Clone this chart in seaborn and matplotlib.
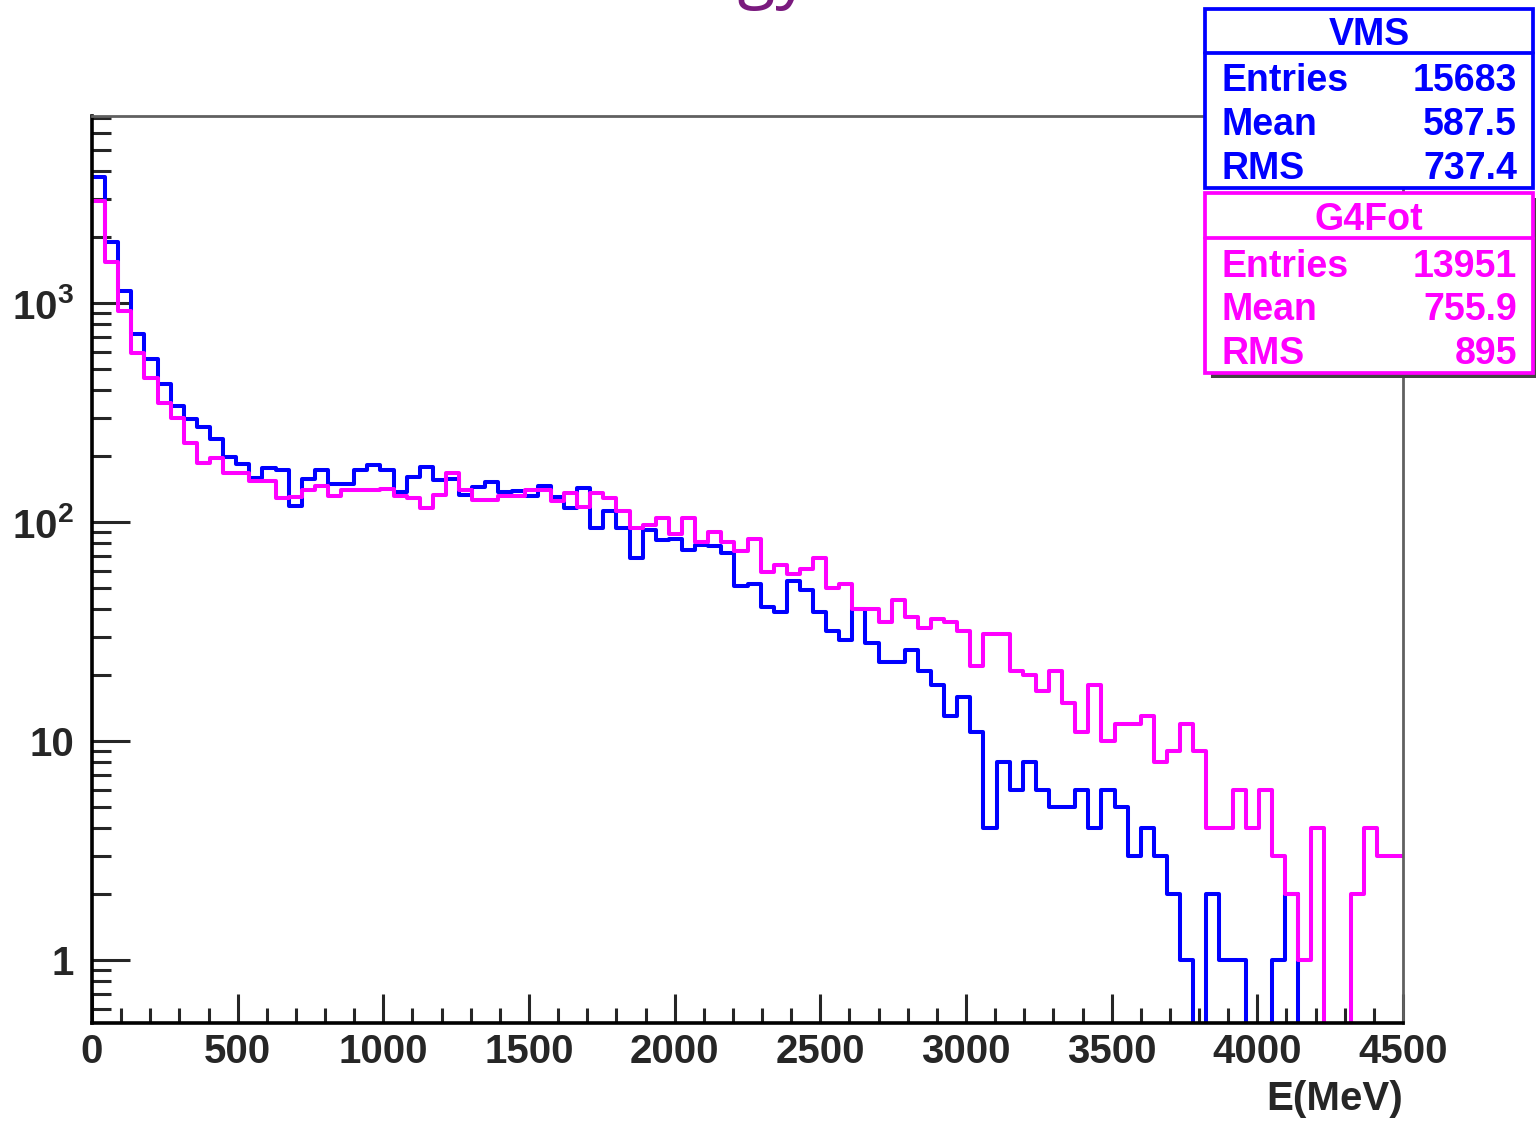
import numpy as np
import pandas as pd
import matplotlib
matplotlib.use("Agg")
import matplotlib.pyplot as plt
import seaborn as sns
from matplotlib.patches import Rectangle
from matplotlib.lines import Line2D
from matplotlib.ticker import FixedLocator, FixedFormatter, MultipleLocator, LogLocator, NullFormatter

# ---------------- data ----------------
E_MIN, E_MAX, N_BINS = 0, 4500, 100

vms_counts = [3760, 1912, 1133, 722, 555, 430, 341, 295, 273, 239,
              198, 184, 159, 176, 173, 119, 157, 173, 149, 150,
              173, 182, 173, 138, 161, 178, 156, 158, 133, 145,
              153, 138, 139, 132, 147, 131, 116, 144, 94, 113,
              94, 69, 92, 83, 84, 75, 79, 78, 72, 51,
              52, 41, 39, 54, 49, 39, 32, 29, 40, 28,
              23, 23, 26, 21, 18, 13, 16, 11, 4, 8,
              6, 8, 6, 5, 5, 6, 4, 6, 5, 3,
              4, 3, 2, 1, 0, 2, 1, 1, 0, 0,
              1, 2, 0, 0, 0, 0, 0, 0, 0, 0]

g4fot_counts = [2940, 1550, 924, 595, 454, 351, 298, 229, 186, 196,
                168, 168, 155, 155, 129, 131, 140, 147, 132, 140,
                140, 140, 142, 132, 129, 116, 133, 168, 141, 126,
                126, 132, 132, 141, 140, 125, 136, 117, 136, 129,
                113, 94, 97, 105, 88, 105, 81, 90, 81, 74,
                84, 59, 64, 58, 61, 69, 50, 52, 40, 40,
                35, 44, 37, 33, 36, 35, 32, 22, 31, 31,
                21, 20, 17, 21, 15, 11, 18, 10, 12, 12,
                13, 8, 9, 12, 9, 4, 4, 6, 4, 6,
                3, 2, 1, 4, 0, 0, 2, 4, 3, 3]

series_names = ["VMS", "G4Fot"]
series_colors = ["#0000ff", "#ff00ff"]
stats_labels = ["Entries", "Mean", "RMS"]
vms_stats = ["15683", "587.5", "737.4"]
g4fot_stats = ["13951", "755.9", "895"]

x_ticks = [0, 500, 1000, 1500, 2000, 2500, 3000, 3500, 4000, 4500]
y_ticks = [1, 10, 100, 1000]
y_tick_labels = ["1", "10", r"$10^{2}$", r"$10^{3}$"]
x_label = "E(MeV)"
title_text = "Energy"

# ---------------- style ----------------
sns.set_style("white")
plt.rcParams["font.family"] = ["Liberation Sans", "DejaVu Sans"]
plt.rcParams["font.weight"] = "bold"
plt.rcParams["mathtext.fontset"] = "custom"
plt.rcParams["mathtext.rm"] = "Liberation Sans:bold"
plt.rcParams["mathtext.it"] = "Liberation Sans:bold"
plt.rcParams["mathtext.bf"] = "Liberation Sans:bold"

W, H = 1536, 1121
fig = plt.figure(figsize=(W / 100, H / 100), dpi=100)
fig.patch.set_facecolor("white")

ax_l, ax_r, ax_t, ax_b = 92, 1403, 116, 1023
ax = fig.add_axes([ax_l / W, 1 - ax_b / H, (ax_r - ax_l) / W, (ax_b - ax_t) / H])

bin_width = (E_MAX - E_MIN) / N_BINS
centers = E_MIN + bin_width * (np.arange(N_BINS) + 0.5)
df = pd.DataFrame({
    "E": np.concatenate([centers, centers]),
    "counts": np.concatenate([vms_counts, g4fot_counts]).astype(float),
    "source": [series_names[0]] * N_BINS + [series_names[1]] * N_BINS,
})

for name, color in zip(series_names, series_colors):
    sub = df[df["source"] == name]
    sns.histplot(data=sub, x="E", weights="counts", bins=N_BINS,
                 binrange=(E_MIN, E_MAX), element="step",
                 fill=False, color=color, linewidth=2.9, ax=ax)

ax.set_yscale("log")
ax.set_xlim(E_MIN, E_MAX)
ax.set_ylim(0.517, 7160)
ax.set_ylabel("")

# ticks
ax.xaxis.set_major_locator(FixedLocator(x_ticks))
ax.xaxis.set_minor_locator(MultipleLocator(100))
ax.yaxis.set_major_locator(FixedLocator(y_ticks))
ax.yaxis.set_major_formatter(FixedFormatter(y_tick_labels))
ax.yaxis.set_minor_locator(LogLocator(base=10, subs=np.arange(2, 10)))
ax.yaxis.set_minor_formatter(NullFormatter())

ax.tick_params(axis="x", which="major", direction="in", length=21, width=2.2,
               labelsize=29, pad=7, top=False, bottom=True)
ax.tick_params(axis="x", which="minor", direction="in", length=10.5, width=2.2,
               top=False, bottom=True)
ax.tick_params(axis="y", which="major", direction="in", length=27, width=2.2,
               labelsize=29, pad=13, left=True, right=False)
ax.tick_params(axis="y", which="minor", direction="in", length=14, width=2.2,
               left=True, right=False)
for lab in ax.get_xticklabels() + ax.get_yticklabels():
    lab.set_fontweight("bold")

ax.set_xlabel(x_label, loc="right", fontsize=29, fontweight="bold", labelpad=7)

for side in ["left", "bottom"]:
    ax.spines[side].set_color("black")
    ax.spines[side].set_linewidth(2.6)
for side in ["top", "right"]:
    ax.spines[side].set_color("#606060")
    ax.spines[side].set_linewidth(2.0)

# title: only its lower part is inside the picture, as in the reference
fig.text(810 / W, 1 + 6 / H, title_text, ha="right", va="baseline",
         fontsize=50, color="#7a1a7e", fontweight="normal",
         family=["Open Sans", "DejaVu Sans"])


# ---------------- stats boxes ----------------
def stats_box(top, bottom, sep, color, title, values, row_ys, shadow=False):
    bl, br = 1205, 1533
    if shadow:
        fig.add_artist(Rectangle(((bl + 6) / W, 1 - (bottom + 5) / H), (br - bl) / W,
                                 (bottom - top) / H, transform=fig.transFigure,
                                 facecolor="#444444", edgecolor="none", zorder=9))
    fig.add_artist(Rectangle((bl / W, 1 - bottom / H), (br - bl) / W, (bottom - top) / H,
                             transform=fig.transFigure, facecolor="white",
                             edgecolor=color, linewidth=2.7, zorder=10))
    fig.add_artist(Line2D([bl / W, br / W], [1 - sep / H, 1 - sep / H],
                          transform=fig.transFigure, color=color, linewidth=2.7, zorder=11))
    fig.text((bl + br) / 2 / W, 1 - (top + sep) / 2 / H, title, ha="center",
             va="center_baseline", fontsize=27, fontweight="bold", color=color, zorder=12)
    for lab, val, yy in zip(stats_labels, values, row_ys):
        fig.text(1222 / W, 1 - yy / H, lab, ha="left", va="center_baseline",
                 fontsize=27, fontweight="bold", color=color, zorder=12)
        fig.text(1517 / W, 1 - yy / H, val, ha="right", va="center_baseline",
                 fontsize=27, fontweight="bold", color=color, zorder=12)


stats_box(193, 373, 238, series_colors[1], series_names[1], g4fot_stats, [263, 306, 350], shadow=True)
stats_box(9, 188, 53, series_colors[0], series_names[0], vms_stats, [77, 121, 165])

fig.savefig("out.png", dpi=100, facecolor="white")
